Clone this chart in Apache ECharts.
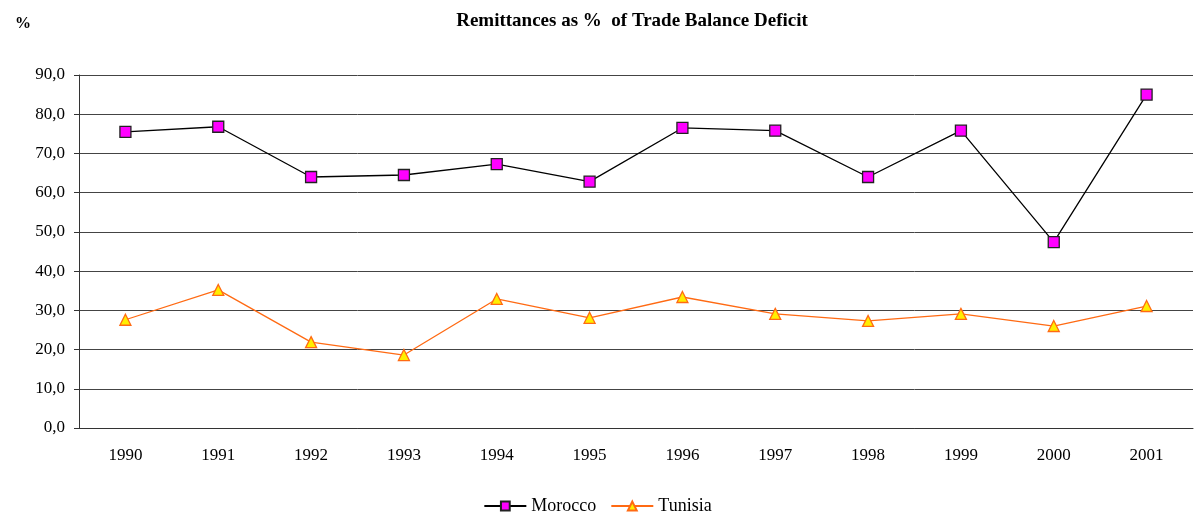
<!DOCTYPE html>
<html>
<head>
<meta charset="utf-8">
<script src="https://cdn.jsdelivr.net/npm/echarts@6/dist/echarts.min.js"></script>
<style>
html, body { margin: 0; padding: 0; background: #fff; }
#chart { width: 1195px; height: 515px; }
</style>
</head>
<body>
<div id="chart"></div>
<script>
var years = ['1990', '1991', '1992', '1993', '1994', '1995', '1996', '1997', '1998', '1999', '2000', '2001'];
var morocco = [75.5, 76.8, 64.0, 64.5, 67.3, 62.8, 76.5, 75.8, 64.0, 75.8, 47.4, 85.0];
var tunisia = [27.6, 35.2, 21.9, 18.6, 32.9, 28.1, 33.4, 29.1, 27.3, 29.1, 26.0, 31.1];

var font = '"Liberation Serif", "Times New Roman", serif';
var chart = echarts.init(document.getElementById('chart'));
chart.setOption({
    animation: false,
    textStyle: { fontFamily: font },
    title: [{
        text: 'Remittances as %  of Trade Balance Deficit',
        left: 627, top: 7, textAlign: 'center',
        textStyle: { fontFamily: font, fontSize: 19, fontWeight: 'bold', color: '#000' }
    }, {
        text: '%',
        left: 10, top: 11,
        textStyle: { fontFamily: font, fontSize: 16, fontWeight: 'bold', color: '#000' }
    }],
    legend: {
        top: 492, left: 'center',
        itemWidth: 42, itemHeight: 11, itemGap: 14,
        textStyle: { fontFamily: font, fontSize: 18, color: '#000' },
        data: ['Morocco', 'Tunisia']
    },
    grid: { left: 79, right: 2, top: 75, bottom: 87 },
    xAxis: {
        type: 'category',
        data: years,
        boundaryGap: true,
        axisLine: { lineStyle: { color: '#333', width: 1 } },
        axisTick: { length: 5, lineStyle: { color: '#333' } },
        axisLabel: { color: '#000', fontSize: 17, margin: 19, fontFamily: font }
    },
    yAxis: {
        type: 'value',
        min: 0, max: 90, interval: 10,
        axisLine: { show: true, lineStyle: { color: '#333' } },
        axisTick: { show: true, length: 5, lineStyle: { color: '#333' } },
        axisLabel: {
            color: '#000', fontSize: 17, margin: 14, fontFamily: font,
            formatter: function (v) { return v.toFixed(1).replace('.', ','); }
        },
        splitLine: { lineStyle: { color: '#444', width: 1 } }
    },
    series: [{
        name: 'Morocco',
        type: 'line',
        data: morocco,
        symbol: 'rect', symbolSize: 11,
        lineStyle: { color: '#000', width: 1.3 },
        itemStyle: { color: '#ff00ff', borderColor: '#222', borderWidth: 1.3 }
    }, {
        name: 'Tunisia',
        type: 'line',
        data: tunisia,
        symbol: 'triangle', symbolSize: 11,
        lineStyle: { color: '#ff6a13', width: 1.3 },
        itemStyle: { color: '#ffee00', borderColor: '#ff6a13', borderWidth: 1.3 }
    }]
});
</script>
</body>
</html>
